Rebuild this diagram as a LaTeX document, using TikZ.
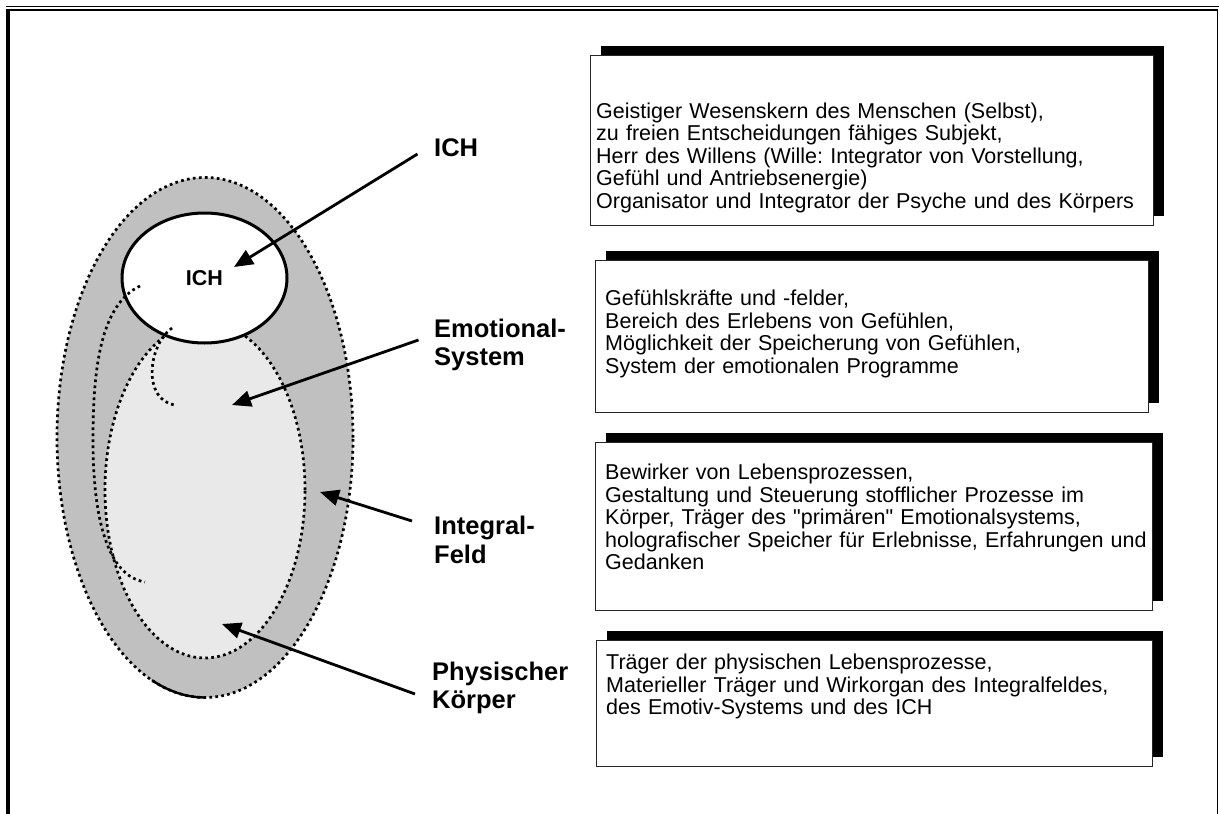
\documentclass[tikz,border=0pt]{standalone}
\usepackage{fontspec}
\setmainfont{Liberation Sans}
\usetikzlibrary{arrows.meta,shadows,shapes.geometric,calc}

\definecolor{fieldgray}{HTML}{C0C0C0}
\definecolor{emogray}{HTML}{E9E9E9}

\tikzset{
  dotline/.style={draw=black, line width=2.7pt, dash pattern=on 2.7pt off 3.3pt},
  pointer/.style={line width=2.8pt, -{Triangle[length=19pt,width=16pt]}},
  lbl/.style={font=\fontsize{25.5}{28.5}\selectfont\bfseries, align=left, anchor=west, inner sep=0pt},
  descbox/.style={draw=black!85, line width=1.3pt, fill=white, anchor=north west, inner sep=0pt,
    drop shadow={shadow xshift=10pt, shadow yshift=10pt, opacity=1, fill=black}},
  desctext/.style={font=\fontsize{21.5}{22.5}\selectfont, align=left, anchor=base west,
    inner sep=0pt, text width=560pt},
}

\begin{document}
\frenchspacing
\begin{tikzpicture}[x=1pt,y=-1pt]
\useasboundingbox (0,0) rectangle (1219,814);

% page frame
\draw[line width=1.8pt] (6,6.5) -- (1219,6.5);
\draw[line width=1.8pt] (8,10.3) -- (1217.5,10.3);
\draw[line width=4pt] (8,9.4) -- (8,814);
\draw[line width=1.5pt] (1217.5,9.4) -- (1217.5,814);

% layered model of the person
\node[ellipse, fill=fieldgray, dotline, minimum width=296pt, minimum height=520pt, inner sep=0pt] (field) at (205,437.5) {};
\draw[line width=2.4pt] plot[domain=90:111, samples=16] ({205+148*cos(\x)},{437.5+260*sin(\x)});
\node[ellipse, fill=emogray, dotline, minimum width=200pt, minimum height=336pt, inner sep=0pt] (emo) at (205,490) {};
\node[ellipse, fill=white, draw, line width=3pt, minimum width=165pt, minimum height=130pt, inner sep=0pt,
  font=\fontsize{21.5}{24}\selectfont\bfseries] (ich) at (204.5,278) {ICH};

% dotted traces inside the field
\draw[dotline] (140,286) .. controls (100,305) and (93,370) .. (93,440)
  .. controls (93,520) and (108,576) .. (145,582);
\draw[dotline] (172,328) .. controls (148,345) and (142,400) .. (175,405);

% arrow targets
\coordinate (tipICH) at (234,267);
\coordinate (tipEmo) at (232,405);
\coordinate (tipInt) at (320,492);
\coordinate (tipPhy) at (222,624);

% labels
\node[lbl] (lblICH) at (434,148) {ICH};
\node[lbl] (lblEmo) at (434,345) {Emotional-\\System};
\node[lbl] (lblInt) at (434,540) {Integral-\\Feld};
\node[lbl] (lblPhy) at (432,688) {Physischer\\Körper};

\draw[pointer] ($(lblICH.west)+(-16.5,6)$) -- (tipICH);
\draw[pointer] ($(lblEmo.west)+(-15.5,-5)$) -- (tipEmo);
\draw[pointer] ($(lblInt.west)+(-22,-19)$) -- (tipInt);
\draw[pointer] ($(lblPhy.west)+(-17,6)$) -- (tipPhy);

% description boxes
\node[descbox, minimum width=563pt, minimum height=170pt] (box1) at (590,55) {};
\node[desctext] (txt1) at ($(box1.north west)+(6,63)$) {Geistiger Wesenskern des Menschen (Selbst),\\
zu freien Entscheidungen fähiges Subjekt,\\
Herr des Willens (Wille: Integrator von Vorstellung,\\
Gefühl und Antriebsenergie)\\
Organisator und Integrator der Psyche und des Körpers};

\node[descbox, minimum width=553pt, minimum height=152pt] (box2) at (595,260) {};
\node[desctext] (txt2) at ($(box2.north west)+(10,45.5)$) {Gefühlskräfte und -felder,\\
Bereich des Erlebens von Gefühlen,\\
Möglichkeit der Speicherung von Gefühlen,\\
System der emotionalen Programme};

\node[descbox, minimum width=557pt, minimum height=168pt] (box3) at (595,442) {};
\node[desctext] (txt3) at ($(box3.north west)+(10,37.5)$) {Bewirker von Lebensprozessen,\\
Gestaltung und Steuerung stofflicher Prozesse im\\
Körper, Träger des \textquotedbl primären\textquotedbl{} Emotionalsystems,\\
holografischer Speicher für Erlebnisse, Erfahrungen und\\
Gedanken};

\node[descbox, minimum width=556pt, minimum height=126pt] (box4) at (596,640) {};
\node[desctext] (txt4) at ($(box4.north west)+(10,29.5)$) {Träger der physischen Lebensprozesse,\\
Materieller Träger und Wirkorgan des Integralfeldes,\\
des Emotiv-Systems und des ICH};

\end{tikzpicture}
\end{document}
